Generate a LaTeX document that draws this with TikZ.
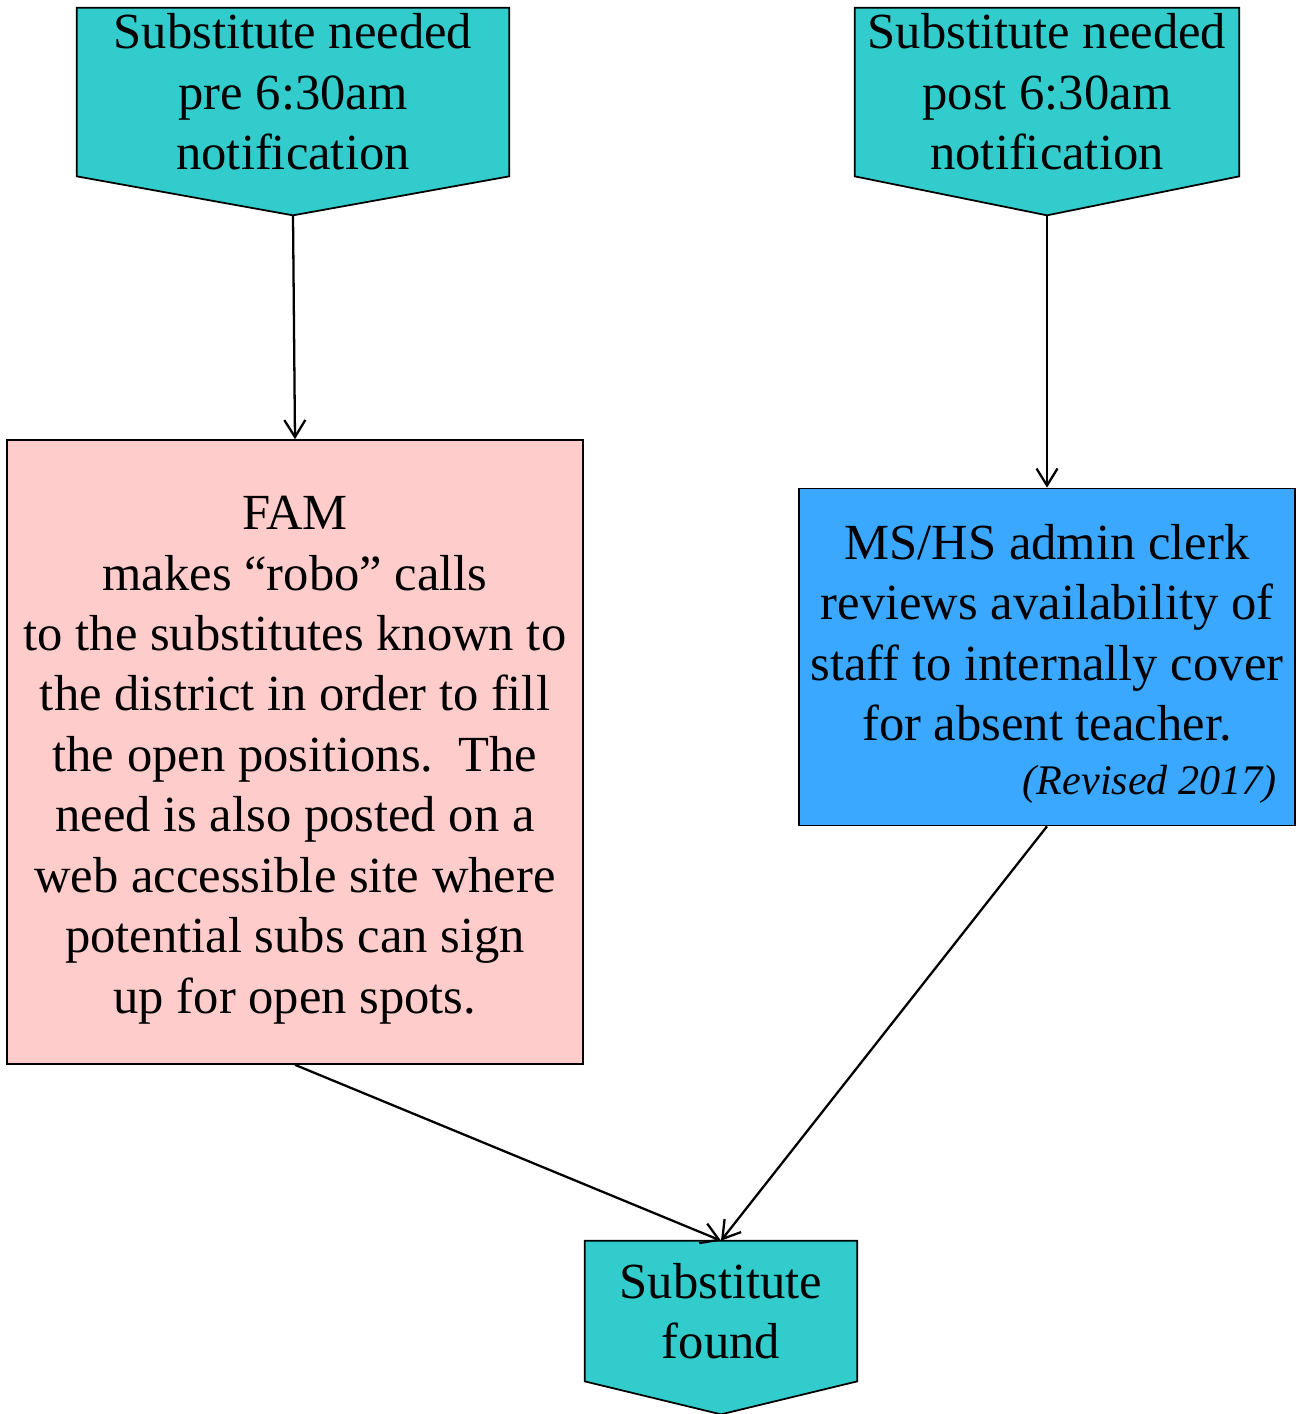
\documentclass[tikz,border=0pt]{standalone}
\usepackage{fontspec}
\setmainfont{Liberation Serif}
\usetikzlibrary{arrows.meta, positioning, calc, backgrounds}
\definecolor{subteal}{RGB}{51,204,204}
\definecolor{fampink}{RGB}{255,204,204}
\definecolor{clerkblue}{RGB}{58,168,255}

\begin{document}
\begin{tikzpicture}[x=0.02cm, y=-0.02cm, >={Straight Barb[length=0.34cm, width=0.42cm]},
  every node/.style={font=\fontsize{28.8}{34.4}\selectfont, align=center, inner sep=0pt},
  flag/.style={fill=subteal, draw, line width=1pt},
  box/.style={draw, line width=1pt},
  link/.style={->, line width=1.3pt}]
  \useasboundingbox (0,0) rectangle (1300,1414);

  % the two kinds of request
  \node[minimum width=8.64cm, minimum height=3.36cm] (pre) at (293,92)
    {Substitute needed\\ pre 6:30am\\ notification};
  \node[minimum width=7.68cm, minimum height=3.36cm] (post) at (1047,92)
    {Substitute needed\\ post 6:30am\\ notification};
  \coordinate (pre-tip) at ($(pre.south)+(0,39)$);
  \coordinate (post-tip) at ($(post.south)+(0,39)$);

  % what happens next
  \node[box, fill=fampink, minimum width=11.52cm, minimum height=12.48cm] (fam) at (295,752)
    {\rule{0pt}{28.2pt}FAM\\ makes “robo” calls\\ to the substitutes known to\\ the district in order to fill\\
     the open positions.\ \ The\\ need is also posted on a\\ web accessible site where\\
     potential subs can sign\\ up for open spots.};
  \node[box, fill=clerkblue, minimum width=9.92cm, minimum height=6.74cm] (clerk) at (1047,657)
    {\rule{0pt}{27.6pt}MS/HS admin clerk\\ reviews availability of\\ staff to internally cover\\ for absent teacher.\\[-4pt]
     \makebox[9.2cm][r]{\fontsize{24}{28}\selectfont\itshape (Revised 2017)}};

  % result
  \node[minimum width=5.44cm, minimum height=2.8cm] (found) at (721,1311)
    {Substitute\\ found};
  \coordinate (found-tip) at ($(found.south)+(0,33)$);

  \begin{scope}[on background layer]
    \filldraw[flag] (pre.north west) -- (pre.north east) -- (pre.south east)
      -- (pre-tip) -- (pre.south west) -- cycle;
    \filldraw[flag] (post.north west) -- (post.north east) -- (post.south east)
      -- (post-tip) -- (post.south west) -- cycle;
    \filldraw[flag] (found.north west) -- (found.north east) -- (found.south east)
      -- (found-tip) -- (found.south west) -- cycle;
  \end{scope}

  \draw[link] (pre-tip) -- (fam.north);
  \draw[link] (post-tip) -- (clerk.north);
  \draw[link] (fam.south) -- (found.north);
  \draw[link] (clerk.south) -- (found.north);
\end{tikzpicture}
\end{document}
